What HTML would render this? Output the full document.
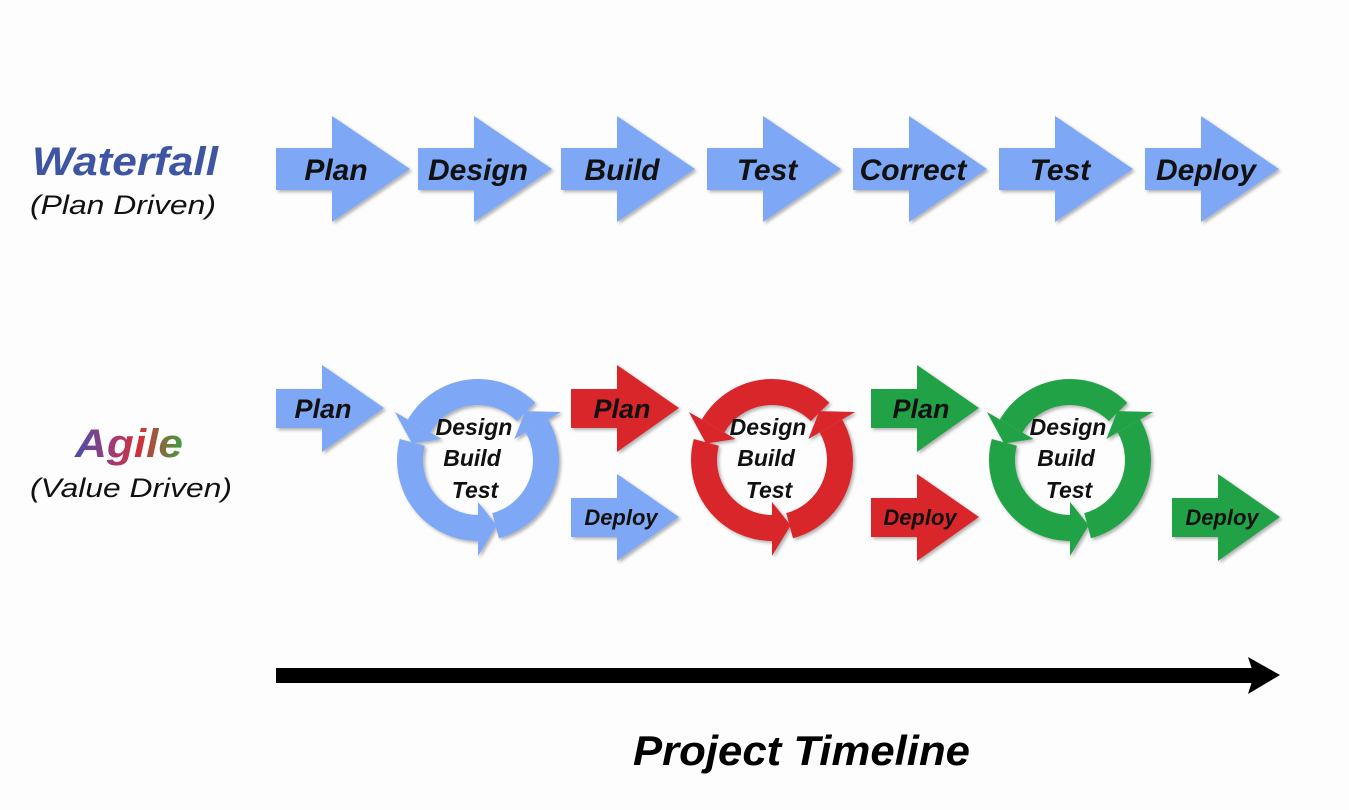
<!DOCTYPE html>
<html><head><meta charset="utf-8"><style>
html,body{margin:0;padding:0;background:#fdfdfd;}
svg{display:block;font-family:"Liberation Sans",sans-serif;}
.t{font-weight:bold;font-style:italic;fill:#111;text-anchor:middle;}
</style></head><body>
<svg width="1349" height="810" viewBox="0 0 1349 810" xmlns="http://www.w3.org/2000/svg">
<defs>
<linearGradient id="ag" x1="0" x2="1" y1="0" y2="0">
<stop offset="0" stop-color="#4a4fa8"/><stop offset="0.35" stop-color="#a23a78"/><stop offset="0.6" stop-color="#d2303a"/><stop offset="1" stop-color="#3fa040"/>
</linearGradient>
<filter id="sh" x="-10%" y="-10%" width="130%" height="130%"><feDropShadow dx="2" dy="2" stdDeviation="1.5" flood-color="#000" flood-opacity="0.3"/></filter>
<g id="big"><polygon points="0,148 56,148 56,116 134,169 56,222 56,190 0,190"/></g>
<g id="sm"><polygon points="0,389 46,389 46,365 108,408 46,452 46,428 0,428"/></g>
<g id="seg"><path d="M 68 0 A 68 68 0 0 1 -17.6 65.68" fill="none" stroke-width="26"/><polygon points="42,0 96,0 65.4,-18.7" stroke="none"/></g>
<g id="cyc">
<use href="#seg" transform="rotate(-150)"/>
<use href="#seg" transform="rotate(-30)"/>
<use href="#seg" transform="rotate(90)"/>
</g>
</defs>

<text x="32" y="175" font-size="40" font-weight="bold" font-style="italic" fill="#3d55a3" textLength="186" lengthAdjust="spacingAndGlyphs">Waterfall</text>
<text x="30" y="214" font-size="27" font-style="italic" fill="#111" textLength="186" lengthAdjust="spacingAndGlyphs">(Plan Driven)</text>
<text x="75" y="457" font-size="40" font-weight="bold" font-style="italic" fill="url(#ag)" textLength="108" lengthAdjust="spacingAndGlyphs">Agile</text>
<text x="30" y="497" font-size="27" font-style="italic" fill="#111" textLength="202" lengthAdjust="spacingAndGlyphs">(Value Driven)</text>

<g fill="#7ea7f6" filter="url(#sh)">
<use href="#big" x="276"/><use href="#big" x="418"/><use href="#big" x="561"/><use href="#big" x="707"/><use href="#big" x="853"/><use href="#big" x="999"/><use href="#big" x="1145"/>
</g>
<g class="t" font-size="30">
<text x="336" y="180">Plan</text>
<text x="478" y="180">Design</text>
<text x="622" y="180">Build</text>
<text x="767" y="180">Test</text>
<text x="913" y="180">Correct</text>
<text x="1060" y="180">Test</text>
<text x="1206" y="180">Deploy</text>
</g>

<g filter="url(#sh)">
<use href="#sm" x="276" fill="#7ea7f6"/>
<use href="#sm" x="571" fill="#d8262b"/>
<use href="#sm" x="571" y="109" fill="#7ea7f6"/>
<use href="#sm" x="871" fill="#24a246"/>
<use href="#sm" x="871" y="109" fill="#d8262b"/>
<use href="#sm" x="1172" y="109" fill="#24a246"/>
<use href="#cyc" transform="translate(478,460)" stroke="#7ea7f6" fill="#7ea7f6"/>
<use href="#cyc" transform="translate(772,460)" stroke="#d8262b" fill="#d8262b"/>
<use href="#cyc" transform="translate(1070,460)" stroke="#24a246" fill="#24a246"/>
</g>
<g class="t" font-size="27">
<text x="323" y="418">Plan</text>
<text x="622" y="418">Plan</text>
<text x="921" y="418">Plan</text>
</g>
<g class="t" font-size="22">
<text x="621" y="525">Deploy</text>
<text x="920" y="525">Deploy</text>
<text x="1222" y="525">Deploy</text>
</g>
<g class="t" font-size="23">
<text x="474" y="435">Design</text><text x="472" y="466">Build</text><text x="475" y="498">Test</text>
<text x="768" y="435">Design</text><text x="766" y="466">Build</text><text x="769" y="498">Test</text>
<text x="1068" y="435">Design</text><text x="1066" y="466">Build</text><text x="1069" y="498">Test</text>
</g>

<rect x="276" y="668" width="980" height="15" fill="#000"/>
<polygon points="1248,657 1280,675 1248,694 1254,675" fill="#000"/>
<text x="633" y="765" font-size="42" font-weight="bold" font-style="italic" fill="#000" textLength="337" lengthAdjust="spacingAndGlyphs">Project Timeline</text>
</svg>
</body></html>
